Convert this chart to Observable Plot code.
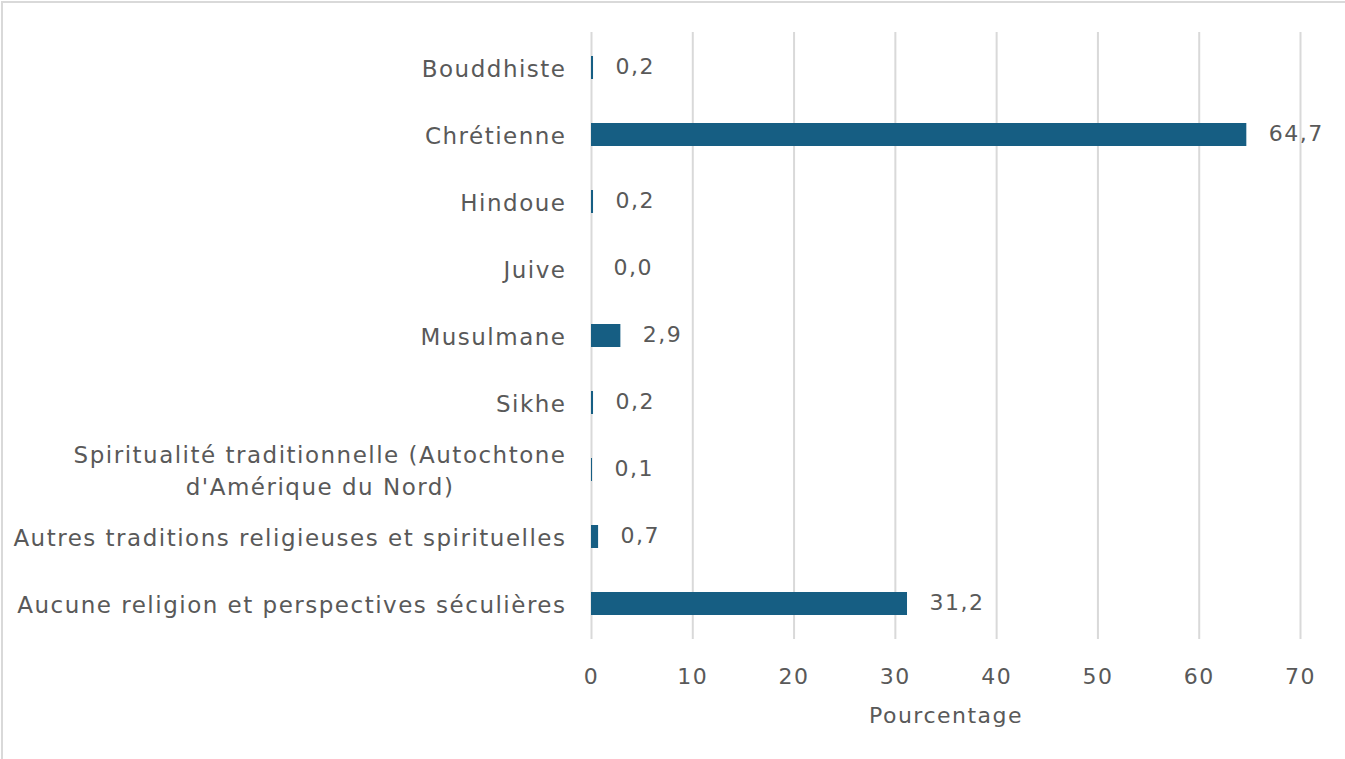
<!DOCTYPE html>
<html>
<head>
<meta charset="utf-8">
<script src="https://cdn.jsdelivr.net/npm/d3@7"></script>
<script src="https://cdn.jsdelivr.net/npm/@observablehq/plot@0.6"></script>
<style>
  html, body { margin: 0; padding: 0; background: #fff; }
  #wrap { position: relative; width: 1345px; height: 759px; overflow: hidden; }
  #border { position: absolute; left: 1px; top: 1px; width: 1400px; height: 800px; border-top: 2px solid #d9d9d9; border-left: 2px solid #d9d9d9; pointer-events: none; }
  svg { display: block; }
  svg text { letter-spacing: 1.5px; }
</style>
</head>
<body>
<div id="wrap"><div id="chart"></div><div id="border"></div></div>
<script>
const categories = [
  "Bouddhiste",
  "Chrétienne",
  "Hindoue",
  "Juive",
  "Musulmane",
  "Sikhe",
  "Spiritualité traditionnelle (Autochtone\nd'Amérique du Nord)",
  "Autres traditions religieuses et spirituelles",
  "Aucune religion et perspectives séculières"
];
const values = [0.2, 64.7, 0.2, 0.0, 2.9, 0.2, 0.1, 0.7, 31.2];
const xTicks = [0, 10, 20, 30, 40, 50, 60, 70];
const xLabel = "Pourcentage";

const data = categories.map((c, i) => ({category: c, value: values[i]}));
const fmt = v => v.toFixed(1).replace(".", ",");

const textColor = "#595959";
const barColor = "#165e83";

const chart = Plot.plot({
  width: 1345,
  height: 759,
  marginLeft: 591,
  marginRight: 45,
  marginTop: 32,
  marginBottom: 120,
  style: {fontFamily: "'DejaVu Sans', sans-serif", fontSize: "23px", color: textColor, background: "#fff"},
  x: {domain: [0, 70]},
  y: {domain: categories, paddingInner: 0.66, paddingOuter: 0.33},
  marks: [
    Plot.gridX(xTicks, {stroke: "#d9d9d9", strokeOpacity: 1, strokeWidth: 2}),
    Plot.barX(data, {x: "value", y: "category", fill: barColor}),
    Plot.text(data, {x: "value", y: "category", text: d => fmt(d.value), textAnchor: "start", dx: 22, dy: -1, fill: textColor, fontSize: 22}),
    Plot.axisX({ticks: xTicks, tickSize: 0, tickPadding: 29, tickFormat: d => String(d), fill: textColor, fontSize: 22,
      label: xLabel, labelAnchor: "center", labelArrow: "none", labelOffset: 83}),
    Plot.axisY({tickSize: 0, tickPadding: 25, dy: -1, fill: textColor, fontSize: 23, label: null, lineHeight: 1.4})
  ]
});
document.getElementById("chart").appendChild(chart);

// center the wrapped (multi-line) category label like the original
chart.querySelectorAll("g[aria-label='y-axis tick label'] text").forEach(t => {
  const spans = t.querySelectorAll("tspan");
  if (spans.length > 1) {
    const w = t.getBBox().width;
    t.setAttribute("text-anchor", "middle");
    spans.forEach(s => s.setAttribute("x", -w / 2));
  }
});
</script>
</body>
</html>
